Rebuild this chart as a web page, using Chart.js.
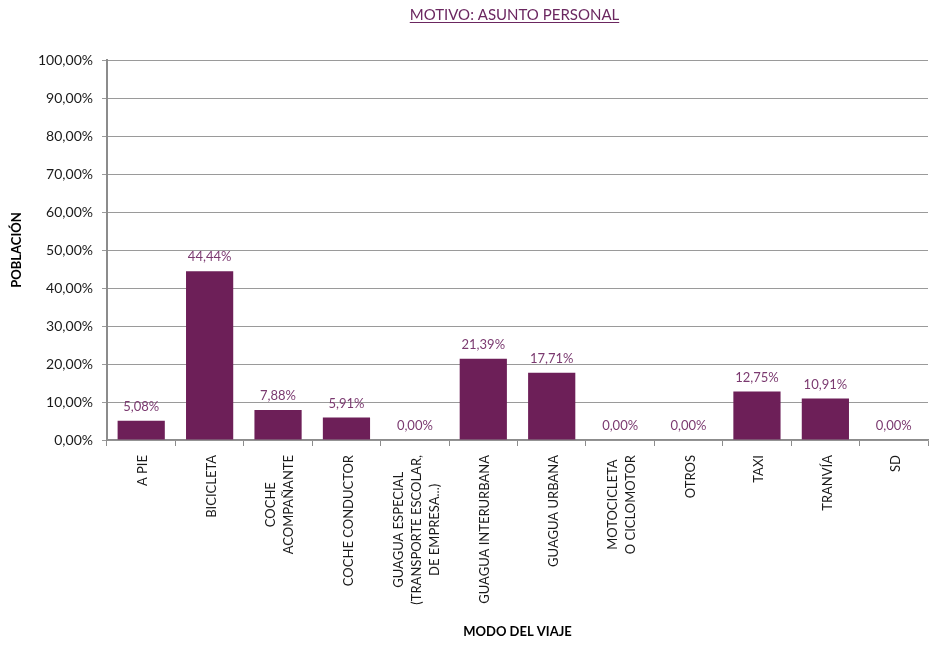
<!DOCTYPE html>
<html>
<head>
<meta charset="utf-8">
<script src="https://cdn.jsdelivr.net/npm/chart.js@4/dist/chart.umd.min.js"></script>
<style>
  html, body { margin: 0; padding: 0; background: #fff; }
  #wrap { width: 932px; height: 648px; }
</style>
</head>
<body>
<div id="wrap"><canvas id="chart" width="932" height="648"></canvas></div>
<script>
// chart data
const categories = [
    "A PIE",
    "BICICLETA",
    ["COCHE", "ACOMPAÑANTE"],
    "COCHE CONDUCTOR",
    ["GUAGUA ESPECIAL", "(TRANSPORTE ESCOLAR,", "DE EMPRESA...)"],
    "GUAGUA INTERURBANA",
    "GUAGUA URBANA",
    ["MOTOCICLETA", "O CICLOMOTOR"],
    "OTROS",
    "TAXI",
    "TRANVÍA",
    "SD"
];
const shares = [5.08, 44.44, 7.88, 5.91, 0.00, 21.39, 17.71, 0.00, 0.00, 12.75, 10.91, 0.00];
const yTicks = [0, 10, 20, 30, 40, 50, 60, 70, 80, 90, 100];

const chartTitle = "MOTIVO: ASUNTO PERSONAL";
const FONT = "Lato, 'Open Sans', sans-serif";

function pct(v) {
    return v.toFixed(2).replace('.', ',') + '%';
}

// Title drawn centered over the plot area, underlined
const titlePlugin = {
    id: 'underlinedTitle',
    afterDraw(chart) {
        const ctx = chart.ctx;
        const area = chart.chartArea;
        const cx = (area.left + area.right) / 2 - 3;
        ctx.save();
        ctx.font = "15px " + FONT;
        ctx.fillStyle = '#6b2760';
        ctx.textAlign = 'center';
        ctx.textBaseline = 'middle';
        ctx.fillText(chartTitle, cx, 15);
        const w = ctx.measureText(chartTitle).width;
        ctx.strokeStyle = '#6b2760';
        ctx.lineWidth = 1;
        ctx.beginPath();
        ctx.moveTo(cx - w / 2, 22.5);
        ctx.lineTo(cx + w / 2, 22.5);
        ctx.stroke();
        ctx.restore();
    }
};

// Value labels above each bar
const valueLabels = {
    id: 'valueLabels',
    afterDatasetsDraw(chart) {
        const ctx = chart.ctx;
        const meta = chart.getDatasetMeta(0);
        ctx.save();
        ctx.font = "13px " + FONT;
        ctx.fillStyle = '#7b3a70';
        ctx.textAlign = 'center';
        ctx.textBaseline = 'middle';
        meta.data.forEach((bar, i) => {
            ctx.fillText(pct(shares[i]), bar.x, bar.y - 14);
        });
        ctx.restore();
    }
};

// Vertical category labels, lines centered on each other
const categoryLabels = {
    id: 'categoryLabels',
    afterDraw(chart) {
        const ctx = chart.ctx;
        const xs = chart.scales.x;
        const top = xs.top + 15;
        const lineGap = 18;
        ctx.save();
        ctx.font = "13px " + FONT;
        ctx.fillStyle = '#1a1a1a';
        ctx.textAlign = 'center';
        ctx.textBaseline = 'middle';
        categories.forEach((label, i) => {
            const lines = Array.isArray(label) ? label : [label];
            const maxW = Math.max(...lines.map(l => ctx.measureText(l).width));
            const x0 = xs.getPixelForTick(i) + 2 - (lines.length - 1) * lineGap / 2;
            lines.forEach((line, j) => {
                ctx.save();
                ctx.translate(x0 + j * lineGap, top + maxW / 2);
                ctx.rotate(-Math.PI / 2);
                ctx.fillText(line, 0, 0);
                ctx.restore();
            });
        });
        ctx.restore();
    }
};

new Chart(document.getElementById('chart'), {
    type: 'bar',
    data: {
        labels: categories,
        datasets: [{
            data: shares,
            backgroundColor: '#6d1f58',
            borderWidth: 0,
            barPercentage: 0.69,
            categoryPercentage: 1.0
        }]
    },
    options: {
        responsive: false,
        animation: false,
        layout: { padding: { top: 60, right: 4, bottom: 5, left: 6 } },
        plugins: {
            legend: { display: false },
            tooltip: { enabled: false },
            title: { display: false }
        },
        scales: {
            x: {
                afterFit(scale) { scale.height = 203; },
                grid: {
                    drawOnChartArea: false,
                    drawTicks: true,
                    tickLength: 6,
                    offset: true,
                    color: '#8c8c8c'
                },
                border: { color: '#8c8c8c', width: 1.5 },
                ticks: { display: false, autoSkip: false },
                title: {
                    display: true,
                    text: 'MODO DEL VIAJE',
                    color: '#000',
                    font: { family: FONT, size: 13, weight: 'bold' },
                    padding: { top: 4, bottom: 3 }
                }
            },
            y: {
                min: 0,
                max: 100,
                afterFit(scale) { scale.width = 101; },
                afterBuildTicks(scale) {
                    scale.ticks = yTicks.map(v => ({ value: v }));
                },
                grid: {
                    color: '#9a9a9a',
                    lineWidth: 1,
                    tickLength: 5
                },
                border: { color: '#8c8c8c', width: 2 },
                ticks: {
                    padding: 9,
                    color: '#1a1a1a',
                    font: { family: FONT, size: 14 },
                    callback: v => pct(v)
                },
                title: {
                    display: true,
                    text: 'POBLACIÓN',
                    color: '#000',
                    font: { family: FONT, size: 13, weight: 'bold' },
                    padding: { top: 3, bottom: 0 }
                }
            }
        }
    },
    plugins: [titlePlugin, valueLabels, categoryLabels]
});
</script>
</body>
</html>
